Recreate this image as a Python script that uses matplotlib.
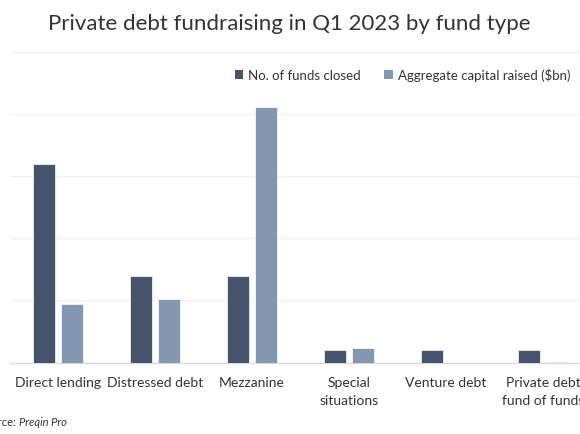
import numpy as np
import matplotlib.pyplot as plt
from matplotlib.patches import Patch

plt.rcParams['font.family'] = ['Lato', 'DejaVu Sans']

# data
fund_types = ["Direct lending", "Distressed debt", "Mezzanine",
              "Special\nsituations", "Venture debt", "Private debt\nfund of funds"]
funds_closed = [16, 7, 7, 1, 1, 1]
capital_raised = [4.7, 5.1, 20.6, 1.2, 0.0, 0.05]

dark = "#44546a"
light = "#8497b0"
txt = "#333333"

fig = plt.figure(figsize=(5.8, 4.35), dpi=100)
# the reference is cropped at both sides, so the axes runs past the right edge
ax = fig.add_axes([9.5 / 580, 71.5 / 435, 582.0 / 580, 310.5 / 435])

x = np.arange(len(fund_types))
w = 0.224
off = 0.143
ax.bar(x - off, funds_closed, w, color=dark, edgecolor="white", linewidth=0.5, zorder=3)
ax.bar(x + off, capital_raised, w, color=light, edgecolor="white", linewidth=0.5, zorder=3)

ax.set_xlim(-0.5, len(fund_types) - 0.5)
ax.set_ylim(0, 25)
ax.set_yticks([5, 10, 15, 20, 25])
ax.yaxis.grid(True, color="#f0f0f0", linewidth=0.9, zorder=0)
ax.set_yticklabels([])
ax.tick_params(axis="y", length=0)
ax.tick_params(axis="x", length=0, pad=10, labelsize=10, labelcolor=txt)
ax.set_xticks(x)
ax.set_xticklabels(fund_types, linespacing=1.6)
for s in ["top", "right", "left"]:
    ax.spines[s].set_visible(False)
ax.spines["bottom"].set_color("#d9d9d9")
ax.spines["bottom"].set_linewidth(0.9)

fig.text(289 / 580, 1 - 24 / 435, "Private debt fundraising in Q1 2023 by fund type",
         ha="center", va="center", fontsize=16, color=txt)

handles = [Patch(facecolor=dark, edgecolor="none"), Patch(facecolor=light, edgecolor="none")]
fig.legend(handles, ["No. of funds closed", "Aggregate capital raised ($bn)"],
           loc="center right", bbox_to_anchor=(570 / 580, 1 - 76 / 435), ncol=2,
           frameon=False, fontsize=9.5, handlelength=0.65, handleheight=0.65,
           handletextpad=0.35, columnspacing=1.8, borderpad=0, borderaxespad=0,
           labelcolor=txt)

# source line, cut off at the left edge like the reference
fig.text(16 / 580, 1 - 423 / 435, "Source:", ha="right", va="center", fontsize=8, color=txt)
fig.text(19 / 580, 1 - 423 / 435, "Preqin Pro", ha="left", va="center", fontsize=8,
         color=txt, style="italic")

fig.savefig("out.png", dpi=100, facecolor="white")
